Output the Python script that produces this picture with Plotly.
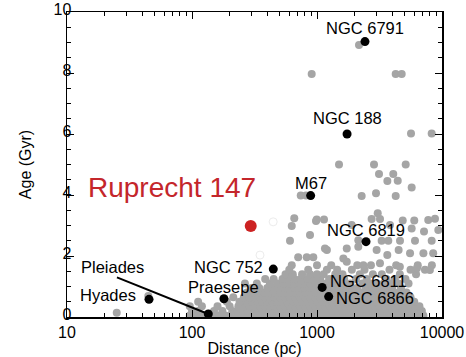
import math
import plotly.graph_objects as go

# ---------------- data ----------------
# Named clusters (distance in pc, age in Gyr)
cluster_names = ["NGC 6791", "NGC 188", "M67", "NGC 6819", "NGC 752",
                 "Praesepe", "NGC 6811", "NGC 6866", "Hyades", "Pleiades"]
cluster_dist = [2420, 1740, 890, 2466, 447, 180, 1100, 1240, 45.3, 135]
cluster_age = [9.03, 6.0, 3.98, 2.47, 1.57, 0.6, 0.97, 0.67, 0.58, 0.1]

rup_name = "Ruprecht 147"
rup_dist = [295]
rup_age = [2.98]

# Field open clusters, dense low-age band: (age, distances)
field_rows = [
    (0.05, [96, 106, 116, 127, 139, 153, 167, 184, 202, 221, 242, 265, 291, 319, 350, 384,
            421, 461, 506, 555, 608, 667, 731, 802, 879, 964, 1057, 1159, 1270, 1393, 1527,
            1675, 1836, 2014, 2207, 2421, 2654, 2911, 3190, 3499, 3835, 4207, 4611, 5058,
            5544, 6081, 6665, 7100]),
    (0.2, [100, 112, 150, 175, 210, 232, 255, 280, 305, 335, 365, 400, 440, 480, 530, 580,
           640, 700, 770, 840, 920, 1010, 1110, 1210, 1330, 1460, 1600, 1750, 1920, 2100,
           2310, 2530, 2780, 3050, 3340, 3660, 4020, 4400, 4830, 5300, 5800, 6400, 6900]),
    (0.35, [96, 120, 160, 200, 235, 260, 290, 320, 350, 384, 421, 461, 506, 555, 608, 667,
            731, 802, 879, 964, 1057, 1159, 1270, 1393, 1527, 1675, 1836, 2014, 2207, 2421,
            2654, 2911, 3190, 3499, 3835, 4207, 4611, 5058, 5544, 6081, 6600]),
    (0.5, [112, 190, 240, 275, 305, 335, 365, 400, 440, 480, 530, 580, 640, 700, 770, 840,
           920, 1010, 1110, 1210, 1330, 1460, 1600, 1750, 1920, 2100, 2310, 2530, 2780, 3050,
           3340, 3660, 4020, 4400, 4830, 5300, 6000]),
    (0.65, [214, 260, 290, 320, 350, 384, 421, 461, 506, 555, 608, 667, 731, 802, 879, 964,
            1057, 1159, 1270, 1393, 1527, 1675, 1836, 2014, 2207, 2421, 2654, 2911, 3190,
            3499, 3835, 4207, 4611, 5058, 5600]),
    (0.8, [275, 305, 340, 380, 420, 460, 510, 560, 610, 670, 740, 810, 890, 980, 1080, 1190,
           1310, 1440, 1580, 1740, 1910, 2100, 2310, 2540, 2800, 3080, 3390, 3730, 4100,
           4500, 5200]),
    (0.95, [300, 345, 400, 450, 500, 550, 605, 665, 730, 800, 880, 970, 1070, 1180, 1300,
            1430, 1570, 1730, 1900, 2100, 2450, 2800, 3100, 3500, 4000, 4700]),
    (1.1, [265, 330, 420, 480, 540, 600, 660, 730, 800, 880, 970, 1070, 1180, 1300, 1440,
           1620, 1850, 2300, 2650, 3000, 3400, 3900, 4500, 5400]),
    (1.25, [385, 450, 530, 590, 660, 740, 840, 950, 1060, 1250, 1450, 1650, 2050, 2500, 3600,
            4200, 5100]),
    (1.4, [560, 640, 760, 880, 1000, 1130, 1400, 1600, 2200, 2800, 3300, 4600, 6200]),
    (1.55, [600, 850, 1200, 1450, 1900, 2400, 3800, 5600, 7300]),
    (1.7, [628, 1000, 1300, 2100, 2700, 4300, 6400, 8300]),
]

# Field open clusters, scattered points
field_dist = [25, 44.7, 707, 828, 934, 1626, 1730, 2350, 3190, 4600, 6300, 8000,
              1200, 1730, 2140, 3000, 3650, 4500, 5550, 7100, 8500,
              1158, 2140, 608, 879, 3290, 3720, 4613, 6080, 8270, 7180, 9340, 5720,
              1894, 3837, 628, 658, 982, 995, 1138, 2736, 3192, 3060, 4850, 6000, 7760, 8790,
              741, 817, 2277, 2965, 4263, 3655, 4424, 5720, 3133, 4075,
              1500, 2858, 5125, 5650, 8270, 907, 4260, 4760, 2168]
field_age = [0.14, 0.69, 1.96, 1.96, 1.96, 1.92, 1.81, 1.7, 1.76, 1.65, 1.6, 1.54,
             2.2, 2.25, 2.3, 2.2, 2.03, 2.2, 2.09, 2.09, 2.09,
             2.25, 2.52, 2.5, 2.69, 2.5, 2.5, 2.5, 2.5, 2.5, 2.8, 2.85, 2.9,
             3.02, 3.02, 2.98, 3.24, 3.15, 3.2, 3.2, 3.21, 3.21, 3.4, 3.16, 3.16, 3.18, 3.22,
             3.98, 3.98, 3.97, 4.06, 3.97, 4.46, 4.47, 4.25, 4.69, 4.69,
             5.0, 5.0, 5.0, 6.02, 6.02, 7.97, 7.97, 7.97, 8.92]

# Faint (hollow) points near Ruprecht 147
faint_dist = [446, 350]
faint_age = [3.12, 2.03]

# Leader line origin for the Pleiades label
pleiades_leader = (25.1, 1.30)

x_major = [10, 100, 1000, 10000]
x_major_text = ["10", "100", "1000", "10000"]
y_major = [0, 2, 4, 6, 8, 10]

# ---------------- figure ----------------
FONT = "Liberation Sans, Arial, Helvetica, sans-serif"
GRAY = "#a5a5a5"

fd, fa = [], []
for age, dists in field_rows:
    for d in dists:
        fd.append(d)
        fa.append(age)
fd += field_dist
fa += field_age

fig = go.Figure()
fig.add_trace(go.Scatter(x=fd, y=fa, mode="markers",
                         marker=dict(size=8, color=GRAY), hoverinfo="skip"))
fig.add_trace(go.Scatter(x=faint_dist, y=faint_age, mode="markers",
                         marker=dict(size=8, color="white", line=dict(color="#ececec", width=1)),
                         hoverinfo="skip"))
# Pleiades leader line
pi = cluster_names.index("Pleiades")
fig.add_trace(go.Scatter(x=[pleiades_leader[0], cluster_dist[pi]],
                         y=[pleiades_leader[1], cluster_age[pi]],
                         mode="lines", line=dict(color="black", width=2),
                         hoverinfo="skip", cliponaxis=False))
fig.add_trace(go.Scatter(x=cluster_dist, y=cluster_age, mode="markers",
                         marker=dict(size=9, color="black"), cliponaxis=False))
fig.add_trace(go.Scatter(x=rup_dist, y=rup_age, mode="markers",
                         marker=dict(size=12, color="#cc2222"), cliponaxis=False))

LBL = 16.5
# label offsets (pixels) relative to their points
label_style = {
    "NGC 6791": dict(xanchor="center", yanchor="middle", xshift=0, yshift=14),
    "NGC 188": dict(xanchor="center", yanchor="middle", xshift=0, yshift=16),
    "M67": dict(xanchor="center", yanchor="middle", xshift=0, yshift=13),
    "NGC 6819": dict(xanchor="center", yanchor="middle", xshift=0, yshift=12),
    "NGC 752": dict(xanchor="right", yanchor="middle", xshift=-8, yshift=2),
    "Praesepe": dict(xanchor="center", yanchor="middle", xshift=0, yshift=12),
    "NGC 6811": dict(xanchor="left", yanchor="middle", xshift=6, yshift=6),
    "NGC 6866": dict(xanchor="left", yanchor="middle", xshift=5, yshift=-1),
    "Hyades": dict(xanchor="right", yanchor="middle", xshift=-11, yshift=4),
}
annotations = []
for name, d, a in zip(cluster_names, cluster_dist, cluster_age):
    if name not in label_style:
        continue
    annotations.append(dict(x=math.log10(d), y=a, xref="x", yref="y", text=name,
                            showarrow=False, font=dict(family=FONT, size=LBL, color="black"),
                            **label_style[name]))
annotations.append(dict(x=math.log10(pleiades_leader[0]), y=pleiades_leader[1], xref="x", yref="y",
                        text="Pleiades", showarrow=False, xanchor="center", yanchor="middle",
                        xshift=-4, yshift=10,
                        font=dict(family=FONT, size=LBL, color="black")))
annotations.append(dict(x=math.log10(rup_dist[0]), y=rup_age[0], xref="x", yref="y",
                        text=rup_name, showarrow=False, xanchor="right", yanchor="middle",
                        xshift=7, yshift=39,
                        font=dict(family=FONT, size=28, color="#c4262b")))

minor_x = [m * 10 ** k for k in (1, 2, 3) for m in range(2, 10)]

fig.update_layout(
    width=466, height=357,
    margin=dict(l=67, r=24, t=12, b=40, autoexpand=False),
    paper_bgcolor="white", plot_bgcolor="white",
    showlegend=False,
    font=dict(family=FONT, size=16, color="black"),
    annotations=annotations,
)
fig.update_xaxes(
    type="log", range=[1, 4], automargin=False,
    tickmode="array", tickvals=x_major, ticktext=x_major_text,
    ticks="inside", ticklen=7, tickwidth=1, tickcolor="black",
    minor=dict(tickmode="array", tickvals=minor_x, ticks="inside", ticklen=4,
               tickcolor="black", tickwidth=1, showgrid=False),
    showline=True, linecolor="black", linewidth=1.5, mirror="ticks",
    showgrid=False, zeroline=False,
    tickfont=dict(family=FONT, size=16),
    title=dict(text="Distance (pc)", font=dict(family=FONT, size=16), standoff=12),
)
fig.update_yaxes(
    range=[0, 10], automargin=False,
    tickmode="array", tickvals=y_major,
    ticks="inside", ticklen=7, tickwidth=1, tickcolor="black",
    ticklabelstandoff=-9, ticklabelshift=-3,
    minor=dict(dtick=0.5, ticks="inside", ticklen=4, tickcolor="black", tickwidth=1,
               showgrid=False),
    showline=True, linecolor="black", linewidth=1.5, mirror="ticks",
    showgrid=False, zeroline=False,
    tickfont=dict(family=FONT, size=16),
    title=dict(text="Age (Gyr)", font=dict(family=FONT, size=16), standoff=18),
)

fig.write_html("out.html",
               config={"displayModeBar": False, "staticPlot": True},
               post_script="document.body.style.margin='0';document.body.style.overflow='hidden';")
